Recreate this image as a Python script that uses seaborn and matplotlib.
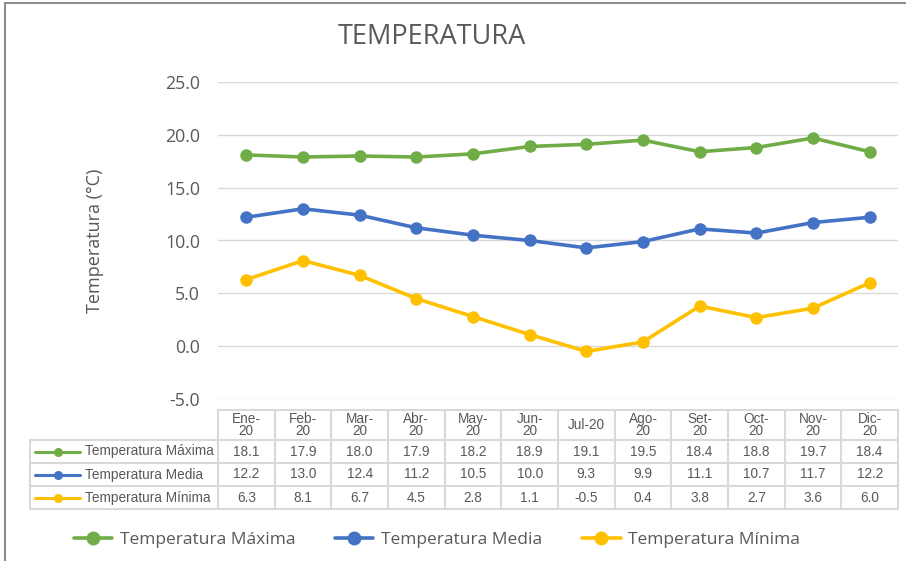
import numpy as np
import pandas as pd
import seaborn as sns
import matplotlib.pyplot as plt
from matplotlib.lines import Line2D
from matplotlib.patches import Rectangle

months = ["Ene-\n20", "Feb-\n20", "Mar-\n20", "Abr-\n20", "May-\n20", "Jun-\n20",
          "Jul-20", "Ago-\n20", "Set-\n20", "Oct-\n20", "Nov-\n20", "Dic-\n20"]
t_max = [18.1, 17.9, 18.0, 17.9, 18.2, 18.9, 19.1, 19.5, 18.4, 18.8, 19.7, 18.4]
t_med = [12.2, 13.0, 12.4, 11.2, 10.5, 10.0, 9.3, 9.9, 11.1, 10.7, 11.7, 12.2]
t_min = [6.3, 8.1, 6.7, 4.5, 2.8, 1.1, -0.5, 0.4, 3.8, 2.7, 3.6, 6.0]
series_names = ["Temperatura Máxima", "Temperatura Media", "Temperatura Mínima"]
colors = ["#70AD47", "#4472C4", "#FFC000"]

TXT = "#595959"
GRID = "#D9D9D9"

sns.set_theme(style="white")
plt.rcParams["font.family"] = ["Lato", "DejaVu Sans"]

n = len(months)
df = pd.DataFrame({
    "idx": np.tile(np.arange(n), 3),
    "Serie": np.repeat(series_names, n),
    "Valor": t_max + t_med + t_min,
})

fig = plt.figure(figsize=(9.06, 5.61), dpi=100)
W, H = 906, 561


def box(x0, y0, x1, y1):
    return [x0 / W, 1 - y1 / H, (x1 - x0) / W, (y1 - y0) / H]


# outer chart border
fig.patches.append(Rectangle((5 / W, -0.05), 1.2, 1 - 3 / H + 0.05, transform=fig.transFigure,
                             fill=False, edgecolor="#8C8C8C", linewidth=1.5))

ax = fig.add_axes(box(218, 82, 898, 399))
sns.lineplot(data=df, x="idx", y="Valor", hue="Serie", palette=colors, marker="o",
             markersize=9, markeredgewidth=0, linewidth=2.6, legend=False, ax=ax)
ax.set_xlim(-0.5, n - 0.5)
ax.set_ylim(-5, 25)
ax.set_yticks(np.arange(-5, 26, 5))
ax.set_yticklabels([f"{v:.1f}" for v in np.arange(-5, 26, 5)], color=TXT, fontsize=12.8,
                   family=["Open Sans", "DejaVu Sans"])
ax.tick_params(axis="y", length=0, pad=13)
ax.set_xticks([])
ax.set_xlabel("")
ax.set_ylabel("Temperatura (°C)", color=TXT, fontsize=13, labelpad=44,
              family=["Open Sans", "DejaVu Sans"])
ax.grid(axis="y", color=GRID, linewidth=1)
for s in ax.spines.values():
    s.set_visible(False)

fig.text(432 / W, 1 - 37 / H, "TEMPERATURA", ha="center", va="center", fontsize=19.5,
         color=TXT, family=["Open Sans", "DejaVu Sans"])

# data table beneath the plot
tax = fig.add_axes(box(218, 410, 898, 509))
tax.set_xlim(-0.5, n - 0.5)
tax.set_ylim(99, 0)
tax.axis("off")
rows = [(30, 53), (53, 76), (76, 99)]
left = -0.5 - (218 - 30) / (680 / n)
lk = dict(color=GRID, linewidth=1.5, clip_on=False)
# header grid
tax.plot([-0.5, n - 0.5], [0, 0], **lk)
for i in range(n + 1):
    tax.plot([i - 0.5, i - 0.5], [0, 99], **lk)
for y0, y1 in rows:
    tax.plot([left, n - 0.5], [y0, y0], **lk)
tax.plot([left, n - 0.5], [99, 99], **lk)
tax.plot([left, left], [30, 99], **lk)
tfont = dict(fontsize=9.8, color=TXT, family=["Liberation Sans", "DejaVu Sans"])
for i, m in enumerate(months):
    tax.text(i, 15, m, ha="center", va="center", linespacing=0.85, **tfont)
for (y0, y1), name, vals, c in zip(rows, series_names, [t_max, t_med, t_min], colors):
    yc = (y0 + y1) / 2
    for i, v in enumerate(vals):
        tax.text(i, yc, f"{v:.1f}", ha="center", va="center", **tfont)
    kx0 = left + 5 / (680 / n)
    kx1 = left + 50 / (680 / n)
    tax.plot([kx0, kx1], [yc, yc], color=c, linewidth=2.2, clip_on=False)
    tax.plot([(kx0 + kx1) / 2], [yc], "o", color=c, markersize=5.5, clip_on=False)
    tax.text(left + 55 / (680 / n), yc, name, ha="left", va="center", **tfont)

# bottom legend
handles = [Line2D([0], [0], color=c, linewidth=2.6, marker="o", markersize=9) for c in colors]
fig.legend(handles, series_names, loc="center", bbox_to_anchor=(437 / W, 1 - 540 / H), ncol=3,
           frameon=False, handlelength=2.2, columnspacing=2.3, handletextpad=0.45,
           prop={"family": ["Open Sans", "DejaVu Sans"], "size": 12.5}, labelcolor=TXT)

fig.savefig("out.png", dpi=100, facecolor="white")
